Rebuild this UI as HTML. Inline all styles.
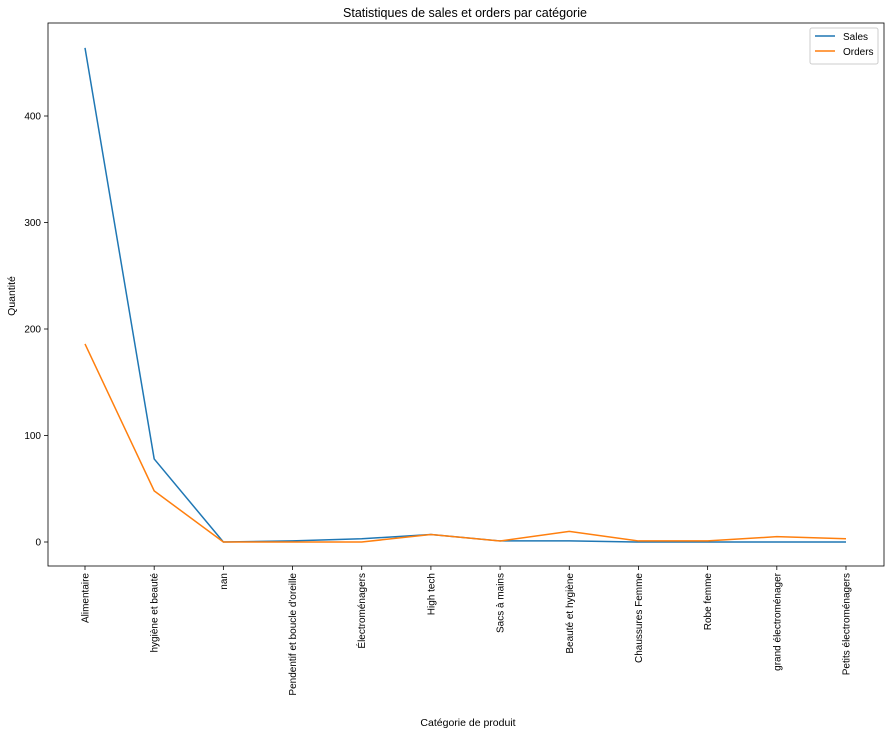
<!DOCTYPE html>
<html><head><meta charset="utf-8"><style>
body{margin:0;background:#fff;}
svg text{font-family:"Liberation Sans","DejaVu Sans",sans-serif;fill:#000;}
</style></head><body>
<svg id="chart" width="891" height="735" xmlns="http://www.w3.org/2000/svg">
<rect width="891" height="735" fill="#fff"/>
<text x="465" y="17" font-size="12.5" text-anchor="middle">Statistiques de sales et orders par catégorie</text>
<g id="plot"></g>
<text x="468" y="726" font-size="10.5" text-anchor="middle">Catégorie de produit</text>
<text transform="translate(15,296) rotate(-90)" font-size="10.5" text-anchor="middle">Quantité</text>
<g>
<rect x="810" y="28" width="68" height="36" fill="#fff" stroke="#ccc" rx="2"/>
<line x1="815" y1="36" x2="835" y2="36" stroke="#1f77b4" stroke-width="1.5"/>
<text x="843" y="40" font-size="10">Sales</text>
<line x1="815" y1="51" x2="835" y2="51" stroke="#ff7f0e" stroke-width="1.5"/>
<text x="843" y="55" font-size="10">Orders</text>
</g>
</svg>
<script>
const categories=["Alimentaire","hygiène et beauté","nan","Pendentif et boucle d'oreille","Électroménagers","High tech","Sacs à mains","Beauté et hygiène","Chaussures Femme","Robe femme","grand électroménager","Petits électroménagers"];
const sales=[464,78,0,1,3,7,1,1,0,0,0,0];
const orders=[186,48,0,0,0,7,1,10,1,1,5,3];
const yTicks=[0,100,200,300,400];
const NS="http://www.w3.org/2000/svg";
const L=48,R=884,T=23,B=566;
const xs=i=>85+i*(846-85)/(categories.length-1);
const ys=v=>542-v*(542-116)/400;
const g=document.getElementById('plot');
function mk(t,a){const e=document.createElementNS(NS,t);for(const k in a)e.setAttribute(k,a[k]);g.appendChild(e);return e;}
const frame=mk('rect',{x:L,y:T,width:R-L,height:B-T,fill:'none',stroke:'#000','stroke-width':0.8});


yTicks.forEach(v=>{
  const tk=mk('line',{x1:L-4,x2:L,y1:ys(v),y2:ys(v),stroke:'#000','stroke-width':0.8});
  
  
  const t=mk('text',{x:L-7,y:ys(v)+3.5,'font-size':10,'text-anchor':'end'});t.textContent=v;
  
  
});
categories.forEach((c,i)=>{
  const tk=mk('line',{x1:xs(i),x2:xs(i),y1:B,y2:B+4,stroke:'#000','stroke-width':0.8});
  
  
  const t=mk('text',{transform:`translate(${xs(i)+3.5},${B+7}) rotate(-90)`,'font-size':10,'text-anchor':'end'});t.textContent=c;
  
  
});
function line(vals,color,name){
  const p=mk('polyline',{points:vals.map((v,i)=>xs(i)+','+ys(v)).join(' '),fill:'none',stroke:color,'stroke-width':1.5});
  
  
}
line(sales,'#1f77b4','sales-line');
line(orders,'#ff7f0e','orders-line');
</script>
</body></html>
